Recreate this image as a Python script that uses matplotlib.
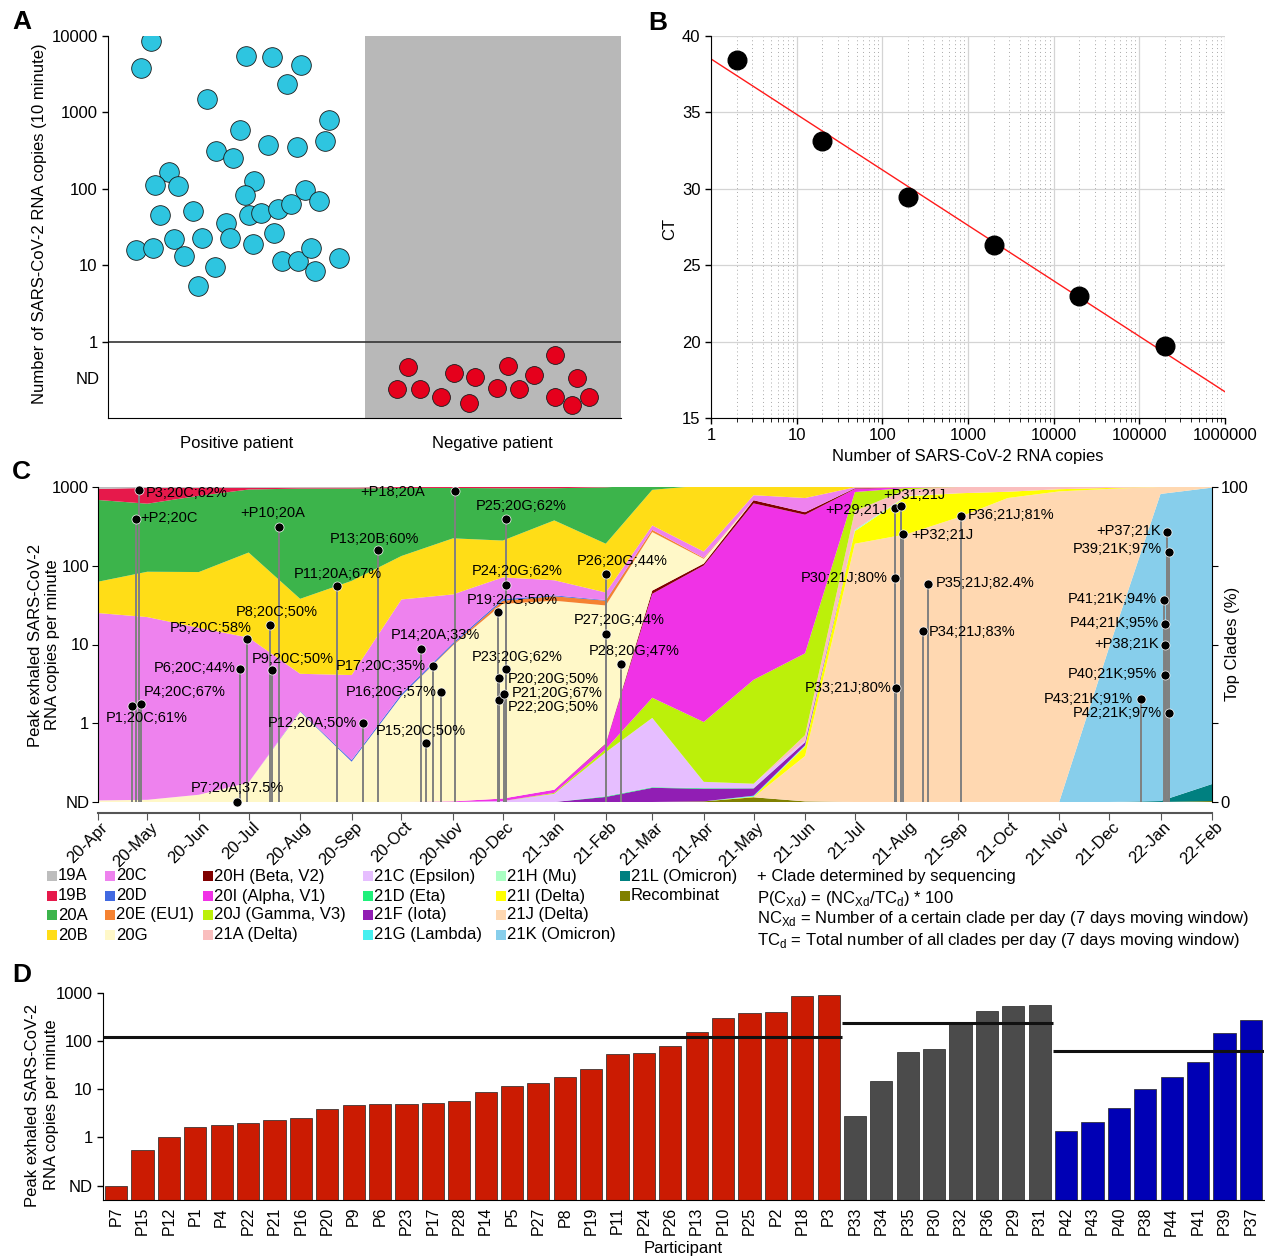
import numpy as np
import pandas as pd
import matplotlib
matplotlib.use('Agg')
import matplotlib.pyplot as plt
import matplotlib.dates as mdates
import matplotlib.transforms as mtransforms
from matplotlib import ticker
from matplotlib.patches import Rectangle

plt.rcParams['font.family'] = ['Liberation Sans', 'DejaVu Sans']
plt.rcParams['mathtext.fontset'] = 'custom'
plt.rcParams['mathtext.rm'] = 'Liberation Sans'
plt.rcParams['font.size'] = 12

# ---------------- data ----------------
# panel A: jittered position + copies (ND shown below 1)
pos_x = [0.168, 0.129, 0.538, 0.639, 0.752, 0.698, 0.386, 0.862, 0.515, 0.624, 0.737,
         0.846, 0.421, 0.487, 0.238, 0.183, 0.273, 0.569, 0.534, 0.768, 0.823, 0.203,
         0.331, 0.460, 0.550, 0.596, 0.663, 0.713, 0.109, 0.175, 0.257, 0.366, 0.476,
         0.565, 0.647, 0.296, 0.417, 0.678, 0.741, 0.791, 0.901, 0.807, 0.351]
pos_y = [8600, 3800, 5470, 5300, 4170, 2340, 1490, 790, 585, 372, 350,
         420, 310, 251, 164, 111, 108, 125, 82, 96, 69, 45,
         51, 36, 45, 48, 55, 63, 16, 17, 22, 23, 22.5,
         18.7, 26, 13, 9.6, 11.5, 11.5, 16.6, 12.6, 8.3, 5.3]
neg_x = [1.170, 1.127, 1.216, 1.298, 1.349, 1.431, 1.407, 1.517, 1.559, 1.602, 1.661,
         1.743, 1.828, 1.743, 1.809, 1.875]
neg_y = [0.47, 0.242, 0.242, 0.19, 0.39, 0.347, 0.158, 0.249, 0.484, 0.242, 0.369,
         0.676, 0.337, 0.19, 0.149, 0.19]

# panel B: standard curve
std_copies = [2, 20, 200, 2000, 20000, 200000]
std_ct = [38.4, 33.15, 29.44, 26.3, 22.96, 19.73]

# panel C: monthly clade shares (%), Apr 2020 .. Feb 2022
months = pd.date_range('2020-04-01', '2022-02-01', freq='MS')
s19A = [0.6, 0.3, 0.3, 0.3, 0.2, 0.2, 0, 0, 0, 0, 0, 0, 0, 0, 0, 0, 0, 0, 0, 0, 0, 0, 0]
s19B = [3.5, 5.0, 2.5, 0.5, 0.3, 0.3, 0.3, 0.3, 0.4, 0.4, 0.3, 0.2, 0, 0, 0, 0, 0, 0, 0, 0, 0, 0, 0]
s20A = [26, 21.6, 24.2, 20, 35, 29.3, 21.6, 16, 16.6, 10.2, 17.9, 1.5, 1.0, 1.0, 0.5, 0.2, 0, 0, 0, 0, 0, 0, 0]
s20B = [9.9, 14.4, 17.7, 27, 23.8, 29.9, 13.8, 17.8, 11.7, 19, 15.5, 11.3, 21, 3.0, 4.5, 0.3, 0, 0, 0, 0, 0, 0, 0]
s20C = [59.5, 58, 53, 46, 11.8, 27, 30, 15.4, 6.9, 4.8, 2.4, 1.4, 2.0, 1.6, 4.5, 0.3, 0, 0, 0, 0, 0, 0, 0]
s20D = [0, 0, 0, 0, 0.2, 0.5, 0.6, 0.5, 0.5, 0.3, 0.2, 0, 0, 0, 0, 0, 0, 0, 0, 0, 0, 0, 0]
s20E = [0, 0, 0, 0, 0, 0, 0, 0.3, 1.0, 1.4, 1.5, 0.7, 0.3, 0, 0, 0, 0, 0, 0, 0, 0, 0, 0]
s20G = [0.5, 0.7, 2.3, 6.2, 28.7, 12.8, 33.7, 49.5, 61.8, 60, 43.8, 18.6, 1.5, 0, 0, 0, 0, 0, 0, 0, 0, 0, 0]
s20H = [0, 0, 0, 0, 0, 0, 0, 0, 0, 0, 0.2, 1.0, 0.6, 1.0, 0.8, 0.2, 0, 0, 0, 0, 0, 0, 0]
s20I = [0, 0, 0, 0, 0, 0, 0, 0.2, 0.8, 1.0, 1.6, 33, 49.7, 56, 44, 1.0, 0.2, 0, 0, 0, 0, 0, 0]
s20J = [0, 0, 0, 0, 0, 0, 0, 0, 0, 0.3, 1.0, 6.4, 19, 33, 26, 6.0, 0.5, 0, 0, 0, 0, 0, 0]
s21A = [0, 0, 0, 0, 0, 0, 0, 0, 0, 0, 0, 0, 0, 0, 1.7, 6.0, 2.0, 2.0, 1.5, 0.7, 0.3, 0, 0]
s21C = [0, 0, 0, 0, 0, 0, 0, 0, 0.3, 2.6, 14, 22, 2.0, 1.4, 0.5, 0, 0, 0, 0, 0, 0, 0, 0]
s21D = [0, 0, 0, 0, 0, 0, 0, 0, 0, 0, 0.2, 0.2, 0.2, 0.1, 0, 0, 0, 0, 0, 0, 0, 0, 0]
s21F = [0, 0, 0, 0, 0, 0, 0, 0, 0, 0, 1.6, 4.5, 4.0, 2.3, 1.0, 0, 0, 0, 0, 0, 0, 0, 0]
s21G = [0, 0, 0, 0, 0, 0, 0, 0, 0, 0, 0, 0, 0, 0.3, 0.2, 0.1, 0, 0, 0, 0, 0, 0, 0]
s21H = [0, 0, 0, 0, 0, 0, 0, 0, 0, 0, 0, 0, 0, 0, 0.2, 0.3, 0.2, 0, 0, 0, 0, 0, 0]
s21I = [0, 0, 0, 0, 0, 0, 0, 0, 0, 0, 0, 0, 0, 0.2, 3.0, 4.0, 12, 7.7, 2.0, 0.7, 0.3, 0, 0]
s21J = [0, 0, 0, 0, 0, 0, 0, 0, 0, 0, 0, 0, 0, 0, 14.4, 82, 85, 90.3, 96.5, 98.6, 50.4, 2.2, 0.2]
s21K = [0, 0, 0, 0, 0, 0, 0, 0, 0, 0, 0, 0, 0, 0, 0, 0, 0, 0, 0, 0, 49, 97.5, 94.1]
s21L = [0, 0, 0, 0, 0, 0, 0, 0, 0, 0, 0, 0, 0, 0, 0, 0, 0, 0, 0, 0, 0, 0.3, 5.4]
sRec = [0, 0, 0, 0, 0, 0, 0, 0, 0, 0, 0, 0, 0.2, 1.5, 0.2, 0, 0, 0, 0, 0, 0, 0, 0.3]

clade_names = ['19A', '19B', '20A', '20B', '20C', '20D', '20E (EU1)', '20G',
               '20H (Beta, V2)', '20I (Alpha, V1)', '20J (Gamma, V3)', '21A (Delta)',
               '21C (Epsilon)', '21D (Eta)', '21F (Iota)', '21G (Lambda)',
               '21H (Mu)', '21I (Delta)', '21J (Delta)', '21K (Omicron)',
               '21L (Omicron)', 'Recombinat']
clade_shares = [s19A, s19B, s20A, s20B, s20C, s20D, s20E, s20G, s20H, s20I, s20J, s21A,
                s21C, s21D, s21F, s21G, s21H, s21I, s21J, s21K, s21L, sRec]
clade_colors = ['#BDBDBD', '#E6194B', '#3CB44B', '#FFDD17', '#EE82EE', '#4169E1', '#F58231',
                '#FFF8C8', '#800000', '#F032E6', '#BCF00A', '#FABEBE', '#E6BEFF', '#1EF07A',
                '#911EB4', '#46F0F0', '#AAFFC3', '#FFFF00', '#FFD8B1', '#87CEEB', '#008080',
                '#808000']

# participants (panel D order), peak exhaled copies/min, sampling date, clade label
participants = ['P7', 'P15', 'P12', 'P1', 'P4', 'P22', 'P21', 'P16', 'P20', 'P9', 'P6', 'P23',
                'P17', 'P28', 'P14', 'P5', 'P27', 'P8', 'P19', 'P11', 'P24', 'P26', 'P13',
                'P10', 'P25', 'P2', 'P18', 'P3',
                'P33', 'P34', 'P35', 'P30', 'P32', 'P36', 'P29', 'P31',
                'P42', 'P43', 'P40', 'P38', 'P44', 'P41', 'P39', 'P37']
peak = [0.1, 0.556, 1.0, 1.66, 1.77, 2.0, 2.32, 2.47, 3.8, 4.74, 4.9, 4.9,
        5.3, 5.7, 8.8, 11.7, 13.5, 17.7, 25.9, 54.7, 57.4, 78.9, 158,
        309, 392, 398, 880, 909,
        2.8, 14.9, 59, 69, 251, 431, 547, 574,
        1.33, 2.04, 4.05, 10, 18.3, 36.8, 151, 272]
groups = ['A'] * 28 + ['B'] * 8 + ['C'] * 8
sample_dates = ['2020-06-24', '2020-10-16', '2020-09-08', '2020-04-22', '2020-04-27',
                '2020-11-29', '2020-12-02', '2020-10-25', '2020-11-29', '2020-07-15',
                '2020-06-26', '2020-12-03', '2020-10-20', '2021-02-10', '2020-10-13',
                '2020-06-30', '2021-02-01', '2020-07-14', '2020-11-28', '2020-08-23',
                '2020-12-03', '2021-02-01', '2020-09-17', '2020-07-19', '2020-12-03',
                '2020-04-24', '2020-11-02', '2020-04-26',
                '2021-07-26', '2021-08-11', '2021-08-14', '2021-07-25', '2021-07-30',
                '2021-09-03', '2021-07-25', '2021-07-29',
                '2022-01-06', '2021-12-20', '2022-01-04', '2022-01-04', '2022-01-04',
                '2022-01-03', '2022-01-06', '2022-01-05']
c_labels = ['P7;20A;37.5%', 'P15;20C;50%', 'P12;20A;50%', 'P1;20C;61%', 'P4;20C;67%',
            'P22;20G;50%', 'P21;20G;67%', 'P16;20G;57%', 'P20;20G;50%', 'P9;20C;50%',
            'P6;20C;44%', 'P23;20G;62%', 'P17;20C;35%', 'P28;20G;47%', 'P14;20A;33%',
            'P5;20C;58%', 'P27;20G;44%', 'P8;20C;50%', 'P19;20G;50%', 'P11;20A;67%',
            'P24;20G;62%', 'P26;20G;44%', 'P13;20B;60%', '+P10;20A', 'P25;20G;62%',
            '+P2;20C', '+P18;20A', 'P3;20C;62%',
            'P33;21J;80%', 'P34;21J;83%', 'P35;21J;82.4%', 'P30;21J;80%', '+P32;21J',
            'P36;21J;81%', '+P29;21J', '+P31;21J',
            'P42;21K;97%', 'P43;21K;91%', 'P40;21K;95%', '+P38;21K', 'P44;21K;95%',
            'P41;21K;94%', 'P39;21K;97%', '+P37;21K']

# label placement for panel C (ha, dx px, dy px)
label_pos = {
    'P3': ('left', 7, -3), 'P2': ('left', 5, 1), 'P1': ('left', -27, -12),
    'P4': ('left', 3, 12), 'P6': ('right', -5, 1), 'P7': ('left', -46, 14),
    'P5': ('right', 5, 11), 'P8': ('left', -34, 13), 'P9': ('left', -20, 11),
    'P10': ('center', -6, 14), 'P11': ('center', 1, 12), 'P12': ('right', -6, 0),
    'P13': ('center', -4, 11), 'P14': ('center', 14, 14), 'P15': ('center', -6, 12),
    'P17': ('right', -7, 0), 'P16': ('right', -5, 0), 'P18': ('right', -30, -1),
    'P19': ('center', 14, 12), 'P25': ('center', 15, 13), 'P24': ('center', 11, 14),
    'P23': ('center', 11, 12), 'P20': ('left', 8, -1), 'P21': ('left', 7, 1),
    'P22': ('left', 8, -7), 'P26': ('center', 16, 13), 'P27': ('center', 13, 14),
    'P28': ('center', 13, 13), 'P30': ('right', -7, 0), 'P33': ('right', -5, 0),
    'P29': ('right', -7, -2), 'P31': ('center', 13, 11), 'P32': ('left', 8, -1),
    'P36': ('left', 7, 1), 'P35': ('left', 8, 1), 'P34': ('left', 6, -1),
    'P37': ('right', -6, 1), 'P39': ('right', -7, 3), 'P41': ('right', -7, 1),
    'P44': ('right', -7, 1), 'P38': ('right', -7, 0), 'P40': ('right', -8, 1),
    'P43': ('right', -8, 0), 'P42': ('right', -7, 0),
}
group_colors = {'A': '#CB1B02', 'B': '#4B4B4B', 'C': '#0000B5'}

# ---------------- figure ----------------
W, H = 1265, 1258
fig = plt.figure(figsize=(W / 100, H / 100), dpi=100)


def box(l, t, r, b):
    return [l / W, 1 - b / H, (r - l) / W, (b - t) / H]


def clean(ax):
    ax.spines['top'].set_visible(False)
    ax.spines['right'].set_visible(False)
    ax.tick_params(length=4, width=1, labelsize=12)


# ---- A ----
axa = fig.add_axes(box(108, 36, 621, 418))
axa.axvspan(1, 2, color='#B8B8B8', lw=0, zorder=0)
axa.axhline(1, color='#333333', lw=1.2, zorder=1)
axa.scatter(pos_x, pos_y, s=200, c='#2EC5E0', edgecolors='#1a1a1a', linewidths=0.6, zorder=3)
axa.scatter(neg_x, neg_y, s=165, c='#E5001C', edgecolors='#1a1a1a', linewidths=0.6, zorder=3)
axa.set_yscale('log')
axa.set_ylim(0.1, 10000)
axa.set_xlim(0, 2)
axa.set_yticks([1, 10, 100, 1000, 10000], ['1', '10', '100', '1000', '10000'])
axa.yaxis.set_minor_locator(ticker.NullLocator())
axa.set_xticks([0.5, 1.5], ['Positive patient', 'Negative patient'])
clean(axa)
axa.tick_params(axis='x', length=0, pad=13)
axa.text(-0.016, 10 ** -0.5, 'ND', transform=axa.get_yaxis_transform(), ha='right', va='center')
fig.text(40 / W, 1 - 224 / H, 'Number of SARS-CoV-2 RNA copies (10 minute)',
         rotation=90, ha='center', va='center', fontsize=12)

# ---- B ----
axb = fig.add_axes(box(711, 36, 1225, 418))
axb.set_xscale('log')
axb.set_xlim(1, 1e6)
axb.set_ylim(15, 40)
axb.grid(which='major', color='#d4d4d4', lw=0.9)
axb.grid(which='minor', axis='x', color='#a8a8a8', ls=(0, (1, 3)), lw=0.7)
axb.set_axisbelow(True)
coef = np.polyfit(np.log10(std_copies), std_ct, 1)
xx = np.logspace(0, 6, 50)
axb.plot(xx, np.polyval(coef, np.log10(xx)), color='#ff1a1a', lw=1, zorder=2)
axb.scatter(std_copies, std_ct, s=180, c='black', zorder=3)
axb.set_yticks([15, 20, 25, 30, 35, 40])
axb.xaxis.set_major_locator(ticker.LogLocator(base=10, numticks=10))
axb.xaxis.set_major_formatter(ticker.FuncFormatter(lambda v, _: f'{int(round(v))}'))
axb.xaxis.set_minor_locator(ticker.LogLocator(base=10, subs=np.arange(2, 10), numticks=20))
axb.xaxis.set_minor_formatter(ticker.NullFormatter())
clean(axb)
axb.tick_params(axis='x', which='minor', length=3)
axb.set_xlabel('Number of SARS-CoV-2 RNA copies', fontsize=12, labelpad=4)
fig.text(670 / W, 1 - 229 / H, 'CT', rotation=90, ha='center', va='center', fontsize=12)

# ---- C ----
axc = fig.add_axes(box(97.5, 487, 1212, 802))
axl = axc.twinx()
axc.stackplot(months, [np.array(s) for s in clade_shares[::-1]],
              colors=clade_colors[::-1], lw=0)
axc.set_xlim(months[0], months[-1])
axc.set_ylim(0, 100)
axc.yaxis.tick_right()
axc.set_yticks([0, 25, 50, 75, 100], ['0', '', '', '', '100'])
axc.tick_params(axis='y', length=4, labelsize=12, pad=2)
axc.spines['top'].set_visible(False)
axc.spines['left'].set_visible(False)
axc.spines['bottom'].set_position(('outward', 8))
axc.spines['bottom'].set_color('#555555')
axc.spines['bottom'].set_linewidth(1.5)
axc.xaxis.set_major_locator(mdates.MonthLocator())
axc.xaxis.set_major_formatter(mdates.DateFormatter('%y-%b'))
axc.tick_params(axis='x', length=5, color='#555555', labelsize=12)
shift = mtransforms.ScaledTranslation(0.08, 0.0, fig.dpi_scale_trans)
for lab in axc.get_xticklabels():
    lab.set_rotation(45)
    lab.set_ha('right')
    lab.set_va('center')
    lab.set_rotation_mode('anchor')
    lab.set_transform(lab.get_transform() + shift)

axl.yaxis.tick_left()
axl.set_yscale('log')
axl.set_ylim(0.1, 1000)
axl.set_yticks([0.1, 1, 10, 100, 1000], ['ND', '1', '10', '100', '1000'])
axl.yaxis.set_minor_locator(ticker.NullLocator())
axl.tick_params(axis='y', length=4, labelsize=12, pad=2)
for sp in ['top', 'right', 'bottom']:
    axl.spines[sp].set_visible(False)

dates = pd.to_datetime(sample_dates)
axl.vlines(dates, 0.1, peak, color='#808080', lw=1.4, zorder=2)
axl.plot(dates, peak, 'o', ms=6.5, color='black', mec='white', mew=0.5, clip_on=False, zorder=3)
for p, d, v, t in zip(participants, dates, peak, c_labels):
    ha, dx, dy = label_pos[p]
    axl.annotate(t, (d, v), xytext=(dx, dy), textcoords='offset pixels',
                 ha=ha, va='center', fontsize=10.5, zorder=4)

fig.text(44 / W, 1 - 645 / H, 'Peak exhaled SARS-CoV-2\nRNA copies per minute',
         rotation=90, ha='center', va='center', fontsize=12, linespacing=1.2)
fig.text(1233 / W, 1 - 644 / H, 'Top Clades (%)', rotation=90, ha='center', va='center',
         fontsize=12)

# legend for clades
col_x = [47, 105, 203, 363, 496, 620]
row_y = [876, 896, 915, 935]
for i, (name, col) in enumerate(zip(clade_names, clade_colors)):
    cx = col_x[i // 4]
    ry = row_y[i % 4]
    fig.add_artist(Rectangle((cx / W, 1 - (ry + 5) / H), 10 / W, 10 / H,
                             transform=fig.transFigure, color=col, lw=0))
    fig.text((cx + 11) / W, 1 - ry / H, name, ha='left', va='center', fontsize=12)

fig.text(757 / W, 1 - 876 / H, '+ Clade determined by sequencing', va='center', fontsize=12)
fig.text(757 / W, 1 - 898 / H, r'P(C$_{\mathrm{Xd}}$) = (NC$_{\mathrm{Xd}}$/TC$_{\mathrm{d}}$) * 100',
         va='center', fontsize=12)
fig.text(757 / W, 1 - 919 / H,
         r'NC$_{\mathrm{Xd}}$ = Number of a certain clade per day (7 days moving window)',
         va='center', fontsize=12)
fig.text(757 / W, 1 - 940 / H,
         r'TC$_{\mathrm{d}}$ = Total number of all clades per day (7 days moving window)',
         va='center', fontsize=12)

# ---- D ----
axd = fig.add_axes(box(103, 993, 1264, 1200))
xs = np.arange(len(participants))
floor = 0.05
axd.bar(xs, np.array(peak) - floor, bottom=floor, width=0.84,
        color=[group_colors[g] for g in groups], edgecolor='#222222', lw=0.5)
for g in ['A', 'B', 'C']:
    idx = [i for i, gg in enumerate(groups) if gg == g]
    m = np.mean([peak[i] for i in idx])
    axd.hlines(m, idx[0] - 0.5, idx[-1] + 0.5, color='#111111', lw=2.2, zorder=3)
axd.set_yscale('log')
axd.set_ylim(floor, 1000)
axd.set_xlim(-0.5, len(participants) - 0.5)
axd.set_yticks([0.1, 1, 10, 100, 1000], ['ND', '1', '10', '100', '1000'])
axd.yaxis.set_minor_locator(ticker.NullLocator())
axd.set_xticks(xs, participants, rotation=90)
clean(axd)
axd.tick_params(axis='x', length=0, labelsize=11.5, pad=5)
axd.set_xlabel('Participant', fontsize=12, labelpad=4)
fig.text(42 / W, 1 - 1105 / H, 'Peak exhaled SARS-CoV-2\nRNA copies per minute',
         rotation=90, ha='center', va='center', fontsize=12, linespacing=1.3)

# panel letters
for letter, x, y in [('A', 12, 22), ('B', 648, 23), ('C', 12, 472), ('D', 12, 975)]:
    fig.text(x / W, 1 - y / H, letter, fontsize=19, fontweight='bold', va='center', ha='left')

fig.savefig('out.png', dpi=100)
